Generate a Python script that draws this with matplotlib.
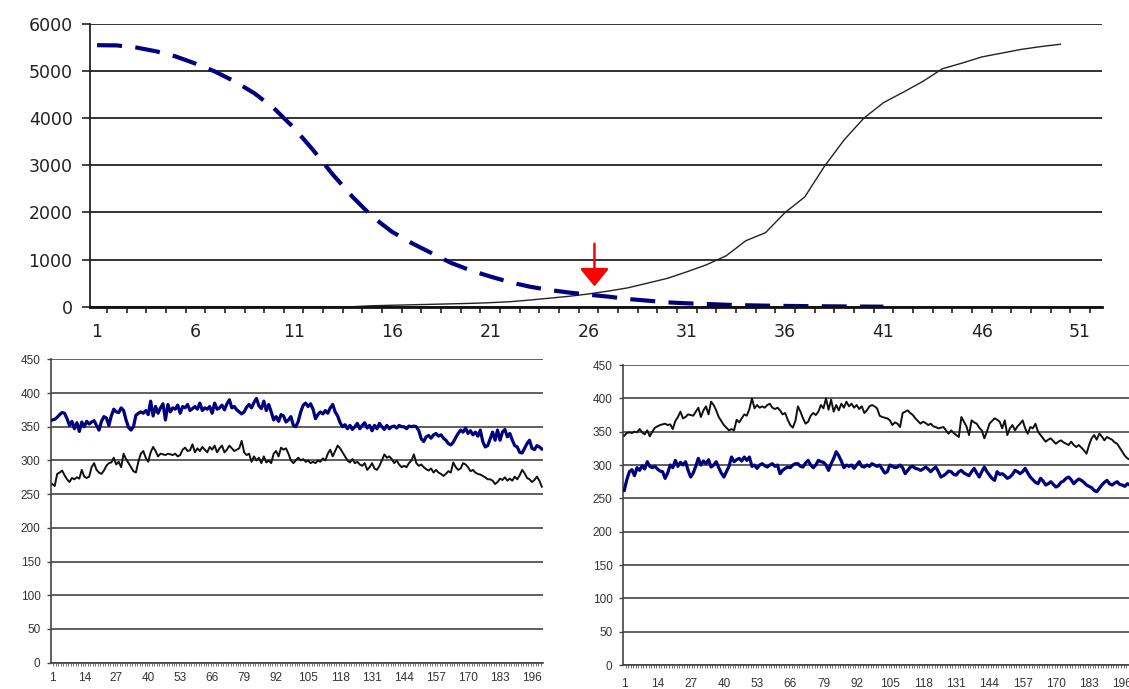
import matplotlib.pyplot as plt
import numpy as np

plt.rcParams["font.family"] = ["Liberation Sans", "DejaVu Sans"]

# Top chart data (categories 1..50)
top_rising = [0, 0, 0, 0, 0, 0, 0, 0, 0, 0,
              0, 0, 0, 0, 20, 30, 40, 50, 60, 70,
              85, 105, 140, 180, 220, 270, 330, 400, 500, 600,
              740, 890, 1080, 1400, 1570, 2000, 2330, 2980, 3540, 4000,
              4330, 4550, 4780, 5050, 5170, 5300, 5380, 5460, 5520, 5570]
top_falling = [5550, 5545, 5500, 5420, 5310, 5160, 4990, 4780, 4530, 4210,
               3800, 3320, 2800, 2330, 1910, 1590, 1350, 1140, 930, 770,
               640, 520, 425, 355, 300, 255, 213, 163, 128, 92,
               71, 57, 40, 30, 22, 16, 12, 8, 5, 2, 0]
top_xticks = [1, 6, 11, 16, 21, 26, 31, 36, 41, 46, 51]
arrow_x, arrow_top, arrow_tip = 26.3, 1335, 430

# Bottom-left chart data (200 points)
bl_blue = [360, 361, 364, 368, 371, 370, 362, 352, 358, 347,
           356, 343, 357, 350, 358, 354, 357, 359, 352, 345,
           358, 365, 363, 352, 366, 376, 372, 371, 378, 374,
           360, 349, 345, 350, 367, 370, 372, 370, 374, 368,
           388, 366, 380, 370, 378, 384, 360, 383, 372, 378,
           376, 382, 370, 380, 378, 383, 374, 377, 380, 376,
           385, 374, 378, 376, 380, 370, 385, 376, 378, 382,
           375, 384, 390, 378, 380, 375, 372, 369, 372, 379,
           383, 378, 386, 392, 381, 377, 388, 374, 383, 372,
           360, 365, 358, 368, 366, 357, 360, 365, 352, 350,
           358, 372, 382, 385, 380, 384, 376, 362, 368, 372,
           369, 374, 370, 378, 383, 372, 366, 356, 350, 353,
           347, 352, 346, 350, 355, 347, 352, 356, 348, 352,
           344, 352, 347, 355, 350, 346, 352, 347, 350, 351,
           348, 352, 350, 350, 347, 351, 350, 351, 350, 344,
           332, 328, 335, 337, 333, 338, 340, 336, 338, 333,
           330, 325, 323, 327, 334, 340, 345, 342, 348, 340,
           344, 338, 342, 336, 345, 328, 320, 322, 332, 342,
           330, 345, 330, 342, 346, 335, 340, 330, 322, 320,
           312, 311, 318, 325, 330, 318, 316, 322, 320, 317]
bl_black = [265, 262, 280, 282, 285, 278, 272, 268, 274, 272,
            275, 273, 286, 276, 274, 276, 290, 296, 286, 282,
            280, 285, 292, 296, 297, 304, 294, 298, 290, 310,
            302, 296, 290, 284, 282, 298, 310, 314, 304, 298,
            312, 320, 314, 306, 310, 309, 308, 310, 309, 308,
            310, 306, 308, 316, 319, 314, 315, 324, 312, 318,
            314, 320, 316, 312, 320, 316, 322, 312, 318, 322,
            312, 316, 322, 318, 314, 316, 318, 329, 312, 308,
            310, 298, 306, 300, 304, 296, 306, 297, 300, 296,
            310, 314, 306, 319, 316, 318, 310, 300, 296, 300,
            304, 300, 302, 298, 300, 296, 298, 296, 300, 298,
            303, 300, 310, 316, 306, 314, 322, 318, 312, 306,
            300, 297, 302, 296, 298, 294, 292, 296, 286, 290,
            296, 288, 286, 292, 300, 309, 304, 306, 302, 296,
            300, 294, 290, 292, 290, 296, 300, 309, 296, 292,
            294, 290, 287, 285, 288, 282, 286, 282, 280, 277,
            280, 284, 282, 297, 290, 286, 288, 296, 294, 290,
            284, 286, 282, 280, 279, 277, 275, 272, 272, 270,
            265, 268, 273, 271, 275, 270, 273, 270, 276, 272,
            278, 286, 281, 274, 272, 268, 271, 276, 270, 261]

# Bottom-right chart data (200 points)
br_black = [344, 348, 349, 348, 350, 349, 354, 349, 346, 352,
            343, 350, 356, 358, 360, 361, 362, 360, 361, 354,
            366, 372, 380, 370, 372, 376, 375, 374, 380, 386,
            372, 382, 388, 376, 395, 390, 382, 372, 366, 360,
            356, 352, 354, 352, 368, 364, 370, 376, 374, 384,
            400, 385, 390, 386, 388, 386, 390, 392, 386, 384,
            386, 382, 376, 378, 368, 360, 356, 366, 388, 380,
            370, 362, 365, 374, 378, 375, 380, 390, 385, 400,
            383, 398, 380, 390, 382, 392, 386, 395, 388, 392,
            386, 390, 384, 388, 378, 382, 388, 390, 388, 385,
            374, 372, 371, 370, 367, 360, 364, 362, 357, 378,
            380, 382, 378, 375, 370, 366, 362, 365, 363, 360,
            362, 358, 357, 355, 356, 357, 352, 347, 352, 348,
            345, 342, 372, 365, 358, 345, 367, 364, 362, 356,
            352, 340, 350, 362, 366, 370, 368, 365, 355, 367,
            345, 355, 360, 352, 358, 362, 367, 355, 347, 357,
            355, 362, 350, 345, 340, 335, 338, 340, 336, 332,
            335, 337, 334, 332, 330, 335, 330, 327, 330, 326,
            322, 317, 330, 340, 345, 338, 347, 343, 337, 342,
            340, 338, 334, 332, 326, 320, 314, 310, 308, 312]
br_blue = [262, 278, 290, 293, 284, 296, 292, 299, 294, 305,
           298, 296, 298, 294, 291, 290, 280, 288, 300, 296,
           307, 298, 304, 300, 305, 292, 282, 288, 298, 310,
           300, 306, 302, 308, 297, 300, 305, 296, 288, 282,
           290, 298, 312, 305, 308, 310, 306, 312, 307, 312,
           298, 300, 295, 300, 302, 299, 297, 300, 302, 298,
           300, 287, 292, 295, 297, 296, 300, 302, 302, 298,
           297, 303, 307, 300, 296, 300, 307, 305, 304, 300,
           292, 302, 310, 320, 314, 306, 296, 300, 298, 300,
           295, 300, 305, 298, 297, 300, 298, 302, 300, 298,
           300, 294, 288, 290, 300, 298, 296, 297, 300, 296,
           287, 292, 297, 298, 295, 294, 292, 294, 297, 294,
           290, 294, 297, 290, 282, 284, 287, 291, 290, 286,
           285, 290, 292, 288, 286, 284, 290, 295, 288, 282,
           290, 297, 290, 285, 280, 277, 290, 286, 287, 284,
           280, 282, 286, 292, 290, 287, 290, 295, 288, 282,
           278, 274, 272, 280, 276, 270, 272, 275, 271, 267,
           269, 274, 276, 280, 282, 278, 272, 276, 279, 277,
           274, 270, 268, 266, 262, 260, 265, 270, 274, 277,
           272, 270, 273, 275, 271, 270, 268, 272, 270, 268]
small_xticks = [1, 14, 27, 40, 53, 66, 79, 92, 105, 118, 131, 144, 157, 170, 183, 196]

navy = "#00007f"

fig = plt.figure(figsize=(11.29, 6.89), dpi=100)

# ---- top chart ----
ax = fig.add_axes([0.0797, 0.5549, 0.8961, 0.4103])
x_rise = np.arange(1, len(top_rising) + 1)
x_fall = np.arange(1, len(top_falling) + 1)
ax.plot(x_rise, top_rising, color="#222222", linewidth=1.0, zorder=3)
ax.plot(x_fall, top_falling, color=navy, linewidth=3.0, dashes=(6.0, 3.2), zorder=3)
ax.annotate("", xy=(arrow_x, arrow_tip), xytext=(arrow_x, arrow_top),
            arrowprops=dict(arrowstyle="-|>,head_width=0.45,head_length=0.55",
                            color="#ff0000", lw=1.8, mutation_scale=20,
                            shrinkA=0, shrinkB=0), zorder=4)
ax.set_xlim(0.64, 52.1)
ax.set_ylim(0, 6000)
ax.set_yticks(range(0, 6001, 1000))
ax.set_xticks(top_xticks)
ax.set_xticks(np.arange(1.5, 52, 1), minor=True)
ax.yaxis.grid(True, color="#222222", linewidth=1.3)
ax.set_axisbelow(True)
for s in ["top", "right"]:
    ax.spines[s].set_visible(False)
ax.spines["left"].set_linewidth(1.3)
ax.spines["left"].set_color("#222222")
ax.spines["bottom"].set_linewidth(2.0)
ax.spines["bottom"].set_color("#111111")
ax.spines["bottom"].set_zorder(5)
ax.tick_params(axis="y", direction="out", length=5.5, width=1.2, pad=7,
               labelsize=12.5, labelcolor="#222222", color="#222222")
ax.tick_params(axis="x", which="major", length=0, pad=12,
               labelsize=12.5, labelcolor="#222222")
ax.tick_params(axis="x", which="minor", direction="out", length=4.5, width=1.2, color="#222222")
for lbl in ax.get_xticklabels() + ax.get_yticklabels():
    lbl.set_family("DejaVu Sans")


def small_chart(rect, first, second, first_color, second_color, pad_x):
    a = fig.add_axes(rect)
    xs = np.arange(1, len(first) + 1)
    a.plot(xs, first, color=first_color,
           linewidth=2.3 if first_color == navy else 1.4, zorder=3)
    a.plot(xs, second, color=second_color,
           linewidth=2.3 if second_color == navy else 1.4, zorder=3)
    a.set_xlim(0.5, 200.5)
    a.set_ylim(0, 450)
    a.set_yticks(range(0, 451, 50))
    a.set_xticks(small_xticks)
    a.set_xticks(np.arange(1.5, 200, 1), minor=True)
    a.yaxis.grid(True, color="#444444", linewidth=1.2)
    a.set_axisbelow(True)
    for s in ["top", "right"]:
        a.spines[s].set_visible(False)
    for s in ["left", "bottom"]:
        a.spines[s].set_color("#444444")
        a.spines[s].set_linewidth(1.2)
    a.tick_params(axis="y", direction="out", length=3, width=1, pad=4.5,
                  labelsize=8.5, labelcolor="#333333", color="#444444")
    a.tick_params(axis="x", which="major", length=0, pad=pad_x,
                  labelsize=8.5, labelcolor="#333333")
    a.tick_params(axis="x", which="minor", direction="out", length=2.2,
                  width=0.6, color="#555555")
    return a


small_chart([0.0452, 0.0382, 0.4358, 0.4403], bl_blue, bl_black, navy, "#111111", 7)
small_chart([0.5518, 0.0348, 0.4524, 0.4354], br_black, br_blue, "#111111", navy, 9)

plt.savefig("out.png", dpi=100)
